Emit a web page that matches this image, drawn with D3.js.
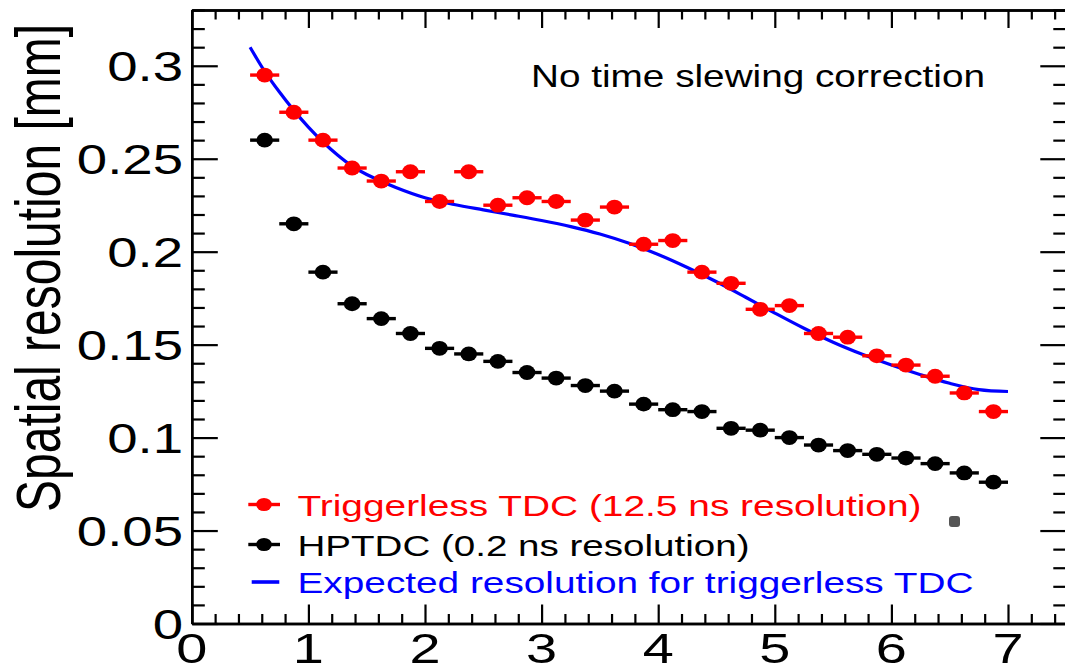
<!DOCTYPE html>
<html>
<head>
<meta charset="utf-8">
<script src="https://cdn.jsdelivr.net/npm/d3@7"></script>
<style>
body { margin: 0; background: #fff; }
svg { display: block; font-family: "Liberation Sans", Arial, Helvetica, sans-serif; }
</style>
</head>
<body>
<div class="container"></div>
<script>
var WIDTH = 1065, HEIGHT = 668;
var LEFT = 191.8, TOP = 10, RIGHT = 1066.3, BOTTOM = 623.5;
var STRETCH = 1.3; // the original picture is stretched sideways

// bins of 0.25 starting at 0.5
var binCenters = [0.625, 0.875, 1.125, 1.375, 1.625, 1.875, 2.125, 2.375, 2.625, 2.875,
  3.125, 3.375, 3.625, 3.875, 4.125, 4.375, 4.625, 4.875, 5.125, 5.375,
  5.625, 5.875, 6.125, 6.375, 6.625, 6.875];
var binHalfWidth = 0.125;

var triggerless = [0.295, 0.275, 0.260, 0.245, 0.238, 0.243, 0.227, 0.243, 0.225, 0.229,
  0.227, 0.217, 0.224, 0.204, 0.206, 0.189, 0.183, 0.169, 0.171, 0.156,
  0.154, 0.144, 0.139, 0.133, 0.124, 0.114];

var hptdc = [0.260, 0.215, 0.189, 0.172, 0.164, 0.156, 0.148, 0.145, 0.141, 0.135,
  0.132, 0.128, 0.125, 0.118, 0.115, 0.114, 0.105, 0.104, 0.100, 0.096,
  0.093, 0.091, 0.089, 0.086, 0.081, 0.076];

var expectedX = [0.5, 0.625, 0.75, 0.875, 1.0, 1.125, 1.25, 1.375, 1.5, 1.75, 2.0, 2.25, 2.5,
  2.75, 3.0, 3.25, 3.5, 3.75, 4.0, 4.25, 4.5, 4.75, 5.0, 5.25, 5.5, 5.75, 6.0,
  6.25, 6.5, 6.75, 7.0];
var expectedY = [0.310, 0.297, 0.286, 0.276, 0.267, 0.259, 0.252, 0.246, 0.2415, 0.2345, 0.229, 0.2254, 0.2225,
  0.2197, 0.2168, 0.2135, 0.2095, 0.2045, 0.1985, 0.1915, 0.1838, 0.1755, 0.167, 0.1588, 0.1513, 0.1448, 0.139,
  0.1338, 0.1292, 0.1258, 0.1248];

var xTickValues = [0, 1, 2, 3, 4, 5, 6, 7];
var xTickLabels = ["0", "1", "2", "3", "4", "5", "6", "7"];
var yTickValues = [0, 0.05, 0.1, 0.15, 0.2, 0.25, 0.3];
var yTickLabels = ["0", "0.05", "0.1", "0.15", "0.2", "0.25", "0.3"];

var yTitle = "Spatial resolution [mm]";
var note = "No time slewing correction";
var legendLabels = ["Triggerless TDC (12.5 ns resolution)", "HPTDC (0.2 ns resolution)", "Expected resolution for triggerless TDC"];
var legendColors = ["#ff0000", "#000000", "#0000ff"];

var x = d3.scaleLinear().domain([0, 7.5]).range([LEFT, RIGHT]);
var y = d3.scaleLinear().domain([0, 0.33]).range([BOTTOM, TOP]);

var svg = d3.select(".container").append("svg")
  .attr("width", WIDTH)
  .attr("height", HEIGHT);

var isMajor = function(v, step) {
  return Math.abs(v / step - Math.round(v / step)) < 1e-6;
};
var xMinor = d3.range(0, 7.5001, 0.2).filter(function(v){ return !isMajor(v, 1); });
var yMinor = d3.range(0, 0.3301, 0.01).filter(function(v){ return !isMajor(v, 0.05); });

var drawAxis = function(axis, transform) {
  var g = svg.append("g").attr("transform", transform).call(axis);
  g.selectAll("text").remove();
  g.selectAll("line").attr("stroke", "#000").attr("stroke-width", 2.2);
  g.select(".domain").attr("stroke", "#000").attr("stroke-width", 2.4);
  return g;
};

// bottom and top
drawAxis(d3.axisBottom(x).tickValues(xTickValues).tickSize(-19).tickSizeOuter(0), "translate(0," + BOTTOM + ")");
drawAxis(d3.axisBottom(x).tickValues(xMinor).tickSize(-9.5).tickSizeOuter(0), "translate(0," + BOTTOM + ")");
drawAxis(d3.axisTop(x).tickValues(xTickValues).tickSize(-18).tickSizeOuter(0), "translate(0," + TOP + ")");
drawAxis(d3.axisTop(x).tickValues(xMinor).tickSize(-9.5).tickSizeOuter(0), "translate(0," + TOP + ")");
// left and right
drawAxis(d3.axisLeft(y).tickValues(yTickValues).tickSize(-26).tickSizeOuter(0), "translate(" + LEFT + ",0)");
drawAxis(d3.axisLeft(y).tickValues(yMinor).tickSize(-13).tickSizeOuter(0), "translate(" + LEFT + ",0)");
drawAxis(d3.axisRight(y).tickValues(yTickValues).tickSize(-26).tickSizeOuter(0), "translate(" + RIGHT + ",0)");
drawAxis(d3.axisRight(y).tickValues(yMinor).tickSize(-13).tickSizeOuter(0), "translate(" + RIGHT + ",0)");

// tick labels
svg.append("g").selectAll("g").data(yTickValues).enter().append("g")
  .attr("transform", function(d){ return "translate(183," + y(d) + ") scale(" + STRETCH + ",1)"; })
  .append("text")
  .attr("text-anchor", "end")
  .attr("dy", "0.36em")
  .attr("font-size", 42)
  .text(function(d, i){ return yTickLabels[i]; });

svg.append("g").selectAll("g").data(xTickValues).enter().append("g")
  .attr("transform", function(d){ return "translate(" + x(d) + ",663) scale(" + STRETCH + ",1)"; })
  .append("text")
  .attr("text-anchor", "middle")
  .attr("font-size", 43)
  .text(function(d, i){ return xTickLabels[i]; });

// y title
svg.append("g")
  .attr("transform", "translate(60,512) scale(" + STRETCH + ",1) rotate(-90)")
  .append("text")
  .attr("font-size", 48)
  .text(yTitle);

// note
svg.append("text")
  .attr("x", 531).attr("y", 87.3)
  .attr("font-size", 32)
  .attr("textLength", 454).attr("lengthAdjust", "spacingAndGlyphs")
  .text(note);

// expected curve
var line = d3.line()
  .x(function(d){ return x(d[0]); })
  .y(function(d){ return y(d[1]); })
  .curve(d3.curveCatmullRom.alpha(0.5));
svg.append("path")
  .datum(expectedX.map(function(v, i){ return [v, expectedY[i]]; }))
  .attr("d", line)
  .attr("fill", "none")
  .attr("stroke", "#0000ff")
  .attr("stroke-width", 3.2);

var drawSeries = function(values, color) {
  var g = svg.append("g");
  var pts = g.selectAll("g").data(values).enter().append("g");
  pts.append("line")
    .attr("x1", function(d, i){ return x(binCenters[i] - binHalfWidth); })
    .attr("x2", function(d, i){ return x(binCenters[i] + binHalfWidth); })
    .attr("y1", function(d){ return y(d); })
    .attr("y2", function(d){ return y(d); })
    .attr("stroke", color)
    .attr("stroke-width", 3.4);
  pts.append("ellipse")
    .attr("cx", function(d, i){ return x(binCenters[i]); })
    .attr("cy", function(d){ return y(d); })
    .attr("rx", 8.3)
    .attr("ry", 7.4)
    .attr("fill", color);
};
drawSeries(hptdc, "#000000");
drawSeries(triggerless, "#ff0000");

// legend
var legendRows = [504.5, 544.5, 582];
var legendWidths = [624, 452, 676];
var legend = svg.append("g");
legendLabels.forEach(function(label, i){
  var cy = legendRows[i];
  if (i < 2) {
    legend.append("line").attr("x1", 248.3).attr("x2", 280).attr("y1", cy).attr("y2", cy)
      .attr("stroke", legendColors[i]).attr("stroke-width", 3.4);
    legend.append("ellipse").attr("cx", 264).attr("cy", cy).attr("rx", 7.8).attr("ry", 6.6)
      .attr("fill", legendColors[i]);
  } else {
    legend.append("line").attr("x1", 251.7).attr("x2", 279.3).attr("y1", cy).attr("y2", cy)
      .attr("stroke", legendColors[i]).attr("stroke-width", 3.6);
  }
  legend.append("text")
    .attr("x", 297.5).attr("y", cy + 11)
    .attr("font-size", 30)
    .attr("fill", legendColors[i])
    .attr("textLength", legendWidths[i]).attr("lengthAdjust", "spacingAndGlyphs")
    .text(label);
});

// small grey cursor left on the screenshot
svg.append("rect").attr("x", 949).attr("y", 516).attr("width", 11).attr("height", 11)
  .attr("rx", 3).attr("fill", "#555");
</script>
</body>
</html>
